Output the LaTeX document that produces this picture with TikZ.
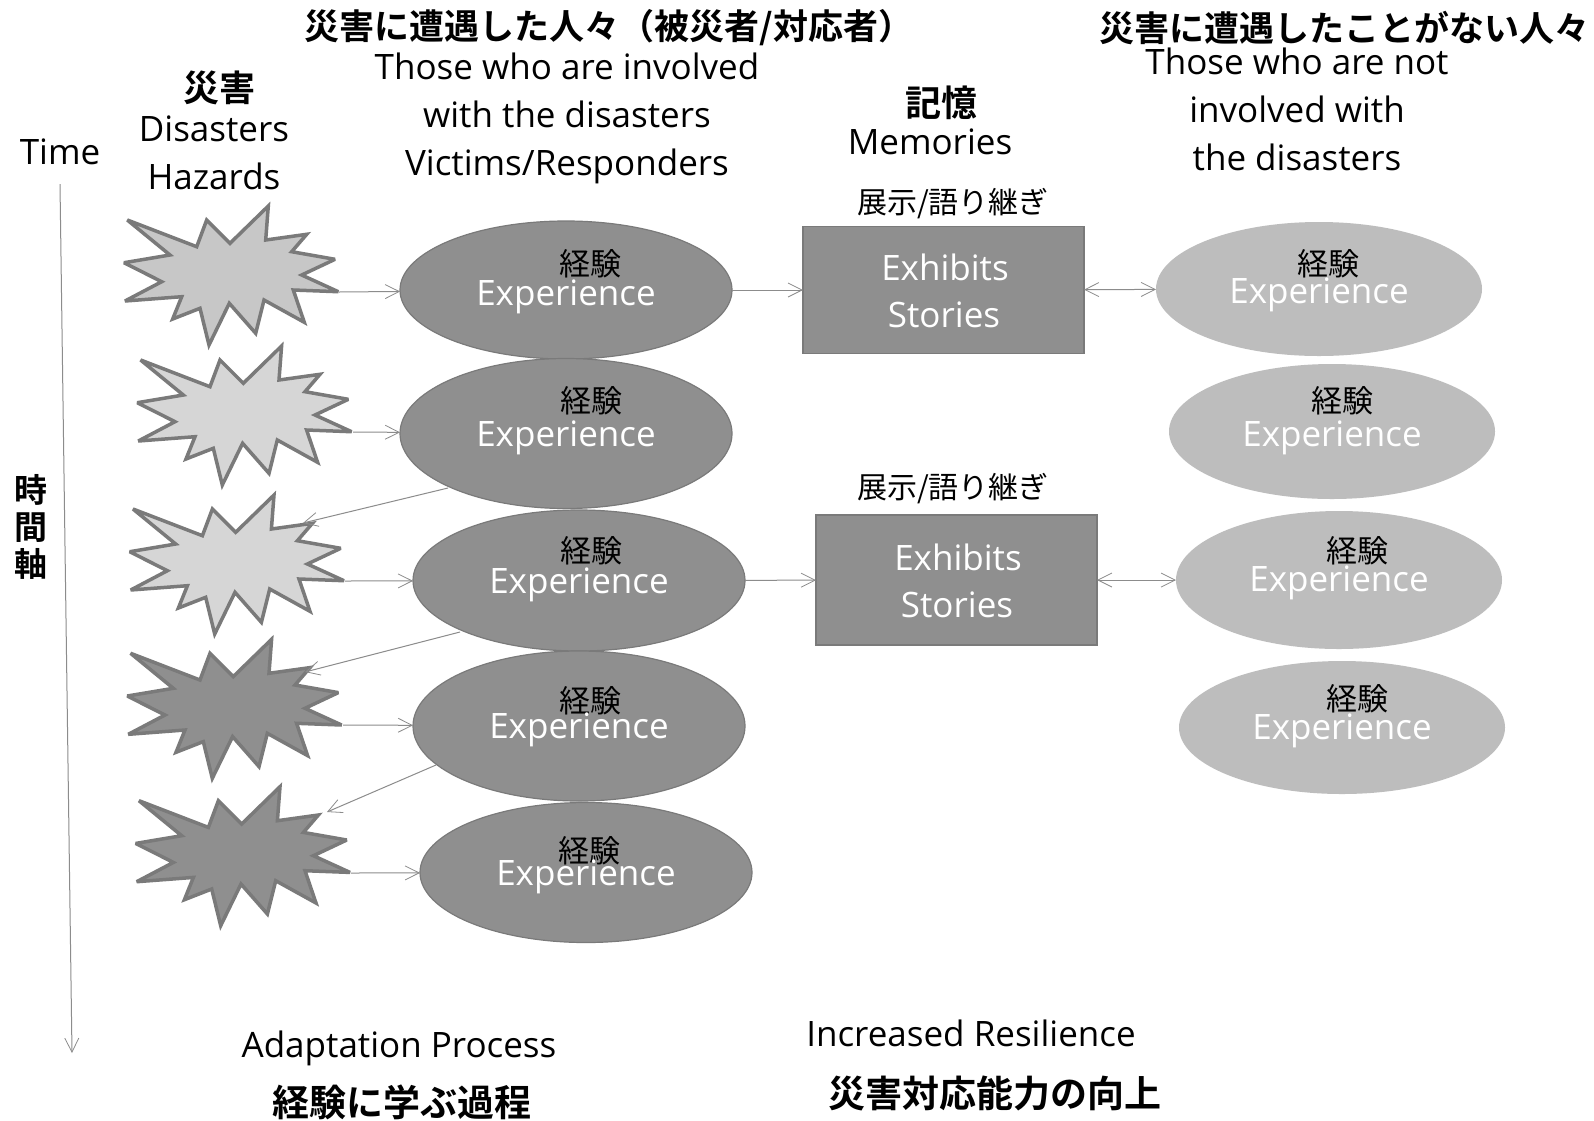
\documentclass[tikz,border=0pt]{standalone}
\usepackage{fontspec}
\setmainfont{Open Sans}
\newfontfamily\jp{Noto Sans CJK JP}
\newfontfamily\jpb{Noto Sans CJK JP Bold}
\definecolor{darkfill}{gray}{0.56}
\definecolor{darkline}{gray}{0.48}
\definecolor{lightA}{gray}{0.78}
\definecolor{lightB}{gray}{0.84}
\definecolor{sideF}{gray}{0.74}
\definecolor{conn}{gray}{0.55}
\usetikzlibrary{arrows.meta,shapes.geometric}
\tikzset{x=1pt,y=-1pt,
 burst/.style={draw=darkline,line width=3.5pt,line join=miter,miter limit=3},
 oval/.style={ellipse,draw=darkline,line width=1.2pt,fill=darkfill,inner sep=0,outer sep=0},
 sideoval/.style={ellipse,fill=sideF,inner sep=0,outer sep=0},
 card/.style={rectangle,draw=darkline,line width=1.2pt,fill=darkfill,inner sep=0,outer sep=0},
 wl/.style={text=white,font=\fontsize{35}{40}\selectfont,inner sep=0},
 jl/.style={font=\fontsize{31}{34}\jp,inner sep=0},
 hl/.style={font=\fontsize{35}{40}\jpb,inner sep=0},
 tl/.style={font=\fontsize{35}{48}\selectfont,inner sep=0,align=center},
 link/.style={draw=conn,line width=1pt,-{Straight Barb[length=14pt,width=14pt,line width=0.8pt]}},
 linkb/.style={draw=conn,line width=1pt,{Straight Barb[length=14pt,width=14pt,line width=0.8pt]}-{Straight Barb[length=14pt,width=14pt,line width=0.8pt]}}
}
\newcommand{\burstshape}[3]{%
 \draw[burst,fill=#3,shift={(#1,#2)}]
 (27.3,30)--(96.7,56.7)--(106.7,30)--(130,53.3)--(168.3,16)--(165.7,50)--(206.7,44.3)--(191.7,61.7)--(235,69.3)--(201.7,85)--(238.3,101.7)--(193.3,100)--(204.3,132.3)--(164,110)--(155.7,143.3)--(129.3,113.3)--(109,155)--(100,118.3)--(72.7,129)--(81.7,106.7)--(25,111)--(61.7,91.7)--(24,72.7)--(70,65)--cycle;}
\begin{document}
\begin{tikzpicture}
\useasboundingbox[fill=white] (0,0) rectangle (1594,1120);
% bursts
\burstshape{100}{190}{lightA}
\burstshape{113.3}{330}{lightB}
\burstshape{105.7}{479}{lightB}
\burstshape{103.3}{623.3}{darkfill}
\burstshape{111.7}{770.7}{darkfill}
\coordinate (b1) at (339,292);
\coordinate (b2) at (353,432);
\coordinate (b3) at (345,581);
\coordinate (b4) at (343,725);
\coordinate (b5) at (351,873);
\coordinate (t3) at (303,523);
\coordinate (t4) at (305,672);
\coordinate (t5) at (327,812);
\coordinate (s3) at (448,488);
\coordinate (s4) at (460,632);
\coordinate (s5) at (436,765);
% ovals
\foreach \n/\x/\y/\r in {e1/566/290/69,e2/566/433.5/75,e3/579/580.5/70.5,e4/579/726/75,e5/586/872.5/70}{
 \node[oval,minimum width=332pt,minimum height=2*\r*1pt] (\n) at (\x,\y) {};
}
\foreach \n/\x/\y/\r in {r1/1319/289/67,r2/1332/431.5/67.5,r3/1339/580/69,r4/1342/727.5/66.5}{
 \node[sideoval,minimum width=326pt,minimum height=2*\r*1pt] (\n) at (\x,\y) {};
}
\node[card,minimum width=281pt,minimum height=127pt] (c1) at (943.5,290) {};
\node[card,minimum width=281pt,minimum height=130pt] (c2) at (956.5,580) {};
% labels in ovals
\foreach \x/\y/\a/\b in {590/264/566/297, 591/401/566/438, 591/551/579/585, 590/701/579/730, 589/851/586/877,
  1328/264/1319/295, 1342/401/1332/438, 1357/551/1339/583, 1357/699/1342/731}{
 \node[jl] at (\x,\y) {経験};
 \node[wl] at (\a,\b) {Experience};
}
\node[wl] at (945,267) {Exhibits};
\node[wl] at (944,315) {Stories};
\node[wl] at (958,557) {Exhibits};
\node[wl] at (957,605) {Stories};
% connectors
\draw[link] (b1) -- (e1);
\draw[link] (b2) -- (e2);
\draw[link] (b3) -- (e3);
\draw[link] (b4) -- (e4);
\draw[link] (b5) -- (e5);
\draw[link] (s3) -- (t3);
\draw[link] (s4) -- (t4);
\draw[link] (s5) -- (t5);
\draw[link] (e1) -- (c1);
\draw[link] (e3) -- (c2);
\draw[linkb] (c1) -- (r1);
\draw[linkb] (c2) -- (r3);
% headings
\node[hl] at (609,28) {災害に遭遇した人々（被災者/対応者）};
\node[hl] at (1344,28) {災害に遭遇したことがない人々};
\node[tl] (h1) at (567,118) {Those who are involved\\with the disasters\\Victims/Responders};
\node[tl] (h2) at (1297,109) {Those who are not\\involved with\\the disasters};
\node[hl,font=\fontsize{36}{40}\jpb] at (219,88) {災害};
\node[tl] at (214,153) {Disasters\\Hazards};
\node[hl,font=\fontsize{36}{40}\jpb] at (941,103) {記憶};
\node[tl] at (930,142) {Memories};
\node[tl] (tm) at (60,152) {Time};
\node[jl,font=\fontsize{30}{34}\jp] at (953,204) {展示/語り継ぎ};
\node[jl,font=\fontsize{30}{34}\jp] at (953,489) {展示/語り継ぎ};
\node[hl,align=center,font=\fontsize{33}{37}\jpb] (axis) at (31,527) {時\\間\\軸};
\coordinate (a1) at (60,184);
\coordinate (a2) at (72,1053);
\draw[link] (a1) -- (a2);
\node[tl] at (399,1048) {Adaptation Process};
\node[hl,font=\fontsize{37}{40}\jpb] at (402,1102) {経験に学ぶ過程};
\node[tl] at (971,1033) {Increased Resilience};
\node[hl,font=\fontsize{37}{40}\jpb] at (995,1093) {災害対応能力の向上};
\end{tikzpicture}
\end{document}
